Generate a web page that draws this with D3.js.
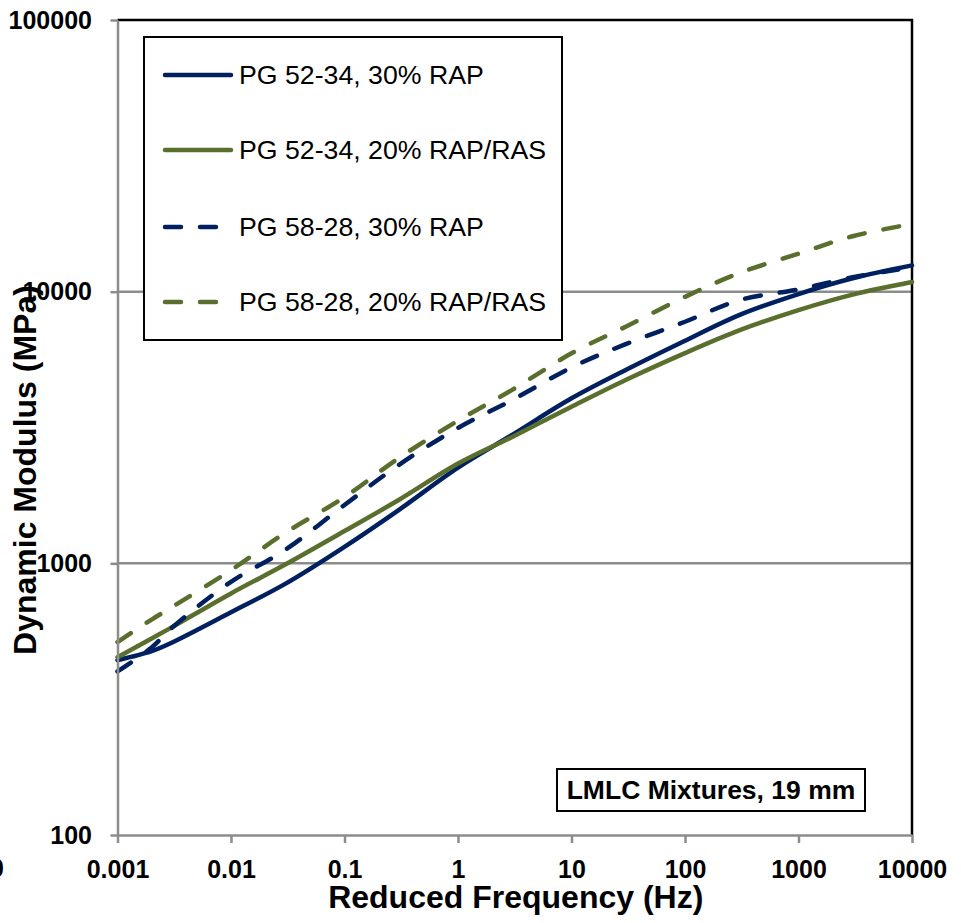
<!DOCTYPE html>
<html>
<head>
<meta charset="utf-8">
<script src="https://cdn.jsdelivr.net/npm/d3@7"></script>
<style>
  body { margin: 0; background: #fff; }
  svg { display: block; font-family: "Liberation Sans", Arial, sans-serif; }
</style>
</head>
<body>
<div id="plot"></div>
<script>
// Reduced frequency (Hz) at which the curves were read
const freq = [0.001, 0.002, 0.003, 0.01, 0.03, 0.1, 0.3, 1, 3, 10, 30, 100, 300, 1000, 3000, 10000];

// Dynamic modulus (MPa) for each mixture
const pg5234Rap    = [440, 475, 510, 660, 840, 1150, 1570, 2250, 2970, 4050, 5150, 6600, 8200, 9800, 11200, 12500];
const pg5234RapRas = [451, 529, 581, 775, 990, 1315, 1710, 2330, 2920, 3770, 4730, 5940, 7200, 8550, 9750, 10850];
const pg5828Rap    = [400, 490, 578, 855, 1120, 1640, 2300, 3150, 3990, 5260, 6410, 7750, 9300, 10200, 11300, 12300];
const pg5828RapRas = [513, 621, 689, 944, 1294, 1753, 2440, 3350, 4350, 5930, 7430, 9570, 11700, 13800, 16000, 17750];

const seriesNames = ["PG 52-34, 30% RAP", "PG 52-34, 20% RAP/RAS", "PG 58-28, 30% RAP", "PG 58-28, 20% RAP/RAS"];
const xTicks = [0.001, 0.01, 0.1, 1, 10, 100, 1000, 10000];
const yTicks = [100, 1000, 10000, 100000];

const blue = "#002060";
const green = "#5a6f2e";
const gridGray = "#8c8c8c";

const series = [
    {name: seriesNames[0], values: pg5234Rap, color: blue, dash: null},
    {name: seriesNames[1], values: pg5234RapRas, color: green, dash: null},
    {name: seriesNames[2], values: pg5828Rap, color: blue, dash: "16,19"},
    {name: seriesNames[3], values: pg5828RapRas, color: green, dash: "16,19"}
];

const W = 961, H = 923;
const plot = {left: 117.5, right: 912, top: 20, bottom: 835};

const svg = d3.select("#plot")
    .append("svg")
    .attr("width", W)
    .attr("height", H);

const x = d3.scaleLog()
    .domain([0.001, 10000])
    .range([plot.left, plot.right]);

const y = d3.scaleLog()
    .domain([100, 100000])
    .range([plot.bottom, plot.top]);

// Horizontal gridlines
svg.append("g")
    .selectAll("line")
    .data(yTicks.filter(d => d > 100 && d < 100000))
    .join("line")
    .attr("x1", plot.left)
    .attr("x2", plot.right)
    .attr("y1", d => y(d))
    .attr("y2", d => y(d))
    .attr("stroke", gridGray)
    .attr("stroke-width", 2.5);

// Black top and right border
svg.append("path")
    .attr("d", `M${plot.left},${plot.top}H${plot.right}V${plot.bottom}`)
    .attr("fill", "none")
    .attr("stroke", "#000")
    .attr("stroke-width", 2.5);

// Curves (smoothed like the spreadsheet lines)
const line = d3.line()
    .x((d, i) => x(freq[i]))
    .y(d => y(d))
    .curve(d3.curveCatmullRom.alpha(0.5));

svg.append("g")
    .selectAll("path")
    .data(series)
    .join("path")
    .attr("d", d => line(d.values))
    .attr("fill", "none")
    .attr("stroke", d => d.color)
    .attr("stroke-width", 4.5)
    .attr("stroke-linecap", "round")
    .attr("stroke-dasharray", d => d.dash);

// Axes
const yAxis = svg.append("g")
    .attr("transform", `translate(${plot.left},0)`)
    .call(d3.axisLeft(y)
        .tickValues(yTicks)
        .tickFormat(d3.format("d"))
        .tickSizeInner(7)
        .tickSizeOuter(0)
        .tickPadding(18.5));

const xAxis = svg.append("g")
    .attr("transform", `translate(0,${plot.bottom})`)
    .call(d3.axisBottom(x)
        .tickValues(xTicks)
        .tickFormat(d => d3.format("~g")(d))
        .tickSizeInner(8)
        .tickSizeOuter(0)
        .tickPadding(17));

[xAxis, yAxis].forEach(ax => {
    ax.select(".domain").attr("stroke", gridGray).attr("stroke-width", 2.5);
    ax.selectAll(".tick line").attr("stroke", gridGray).attr("stroke-width", 2.5);
    ax.selectAll(".tick text")
        .attr("fill", "#000")
        .style("font-size", "25px")
        .style("font-weight", "bold")
        .style("font-family", "'Liberation Sans', Arial, sans-serif");
});

// Stray clipped label at the left edge (cut off in the original too)
svg.append("text")
    .attr("x", 4)
    .attr("y", 877)
    .attr("text-anchor", "end")
    .style("font-size", "25px")
    .style("font-weight", "bold")
    .text("0");

// Axis titles
svg.append("text")
    .attr("x", (plot.left + plot.right) / 2 + 1)
    .attr("y", 908)
    .attr("text-anchor", "middle")
    .style("font-size", "32px")
    .style("font-weight", "bold")
    .text("Reduced Frequency (Hz)");

svg.append("text")
    .attr("transform", "translate(36,470) rotate(-90)")
    .attr("text-anchor", "middle")
    .style("font-size", "32px")
    .style("font-weight", "bold")
    .text("Dynamic Modulus (MPa)");

// Legend
const legend = svg.append("g");
legend.append("rect")
    .attr("x", 144)
    .attr("y", 37)
    .attr("width", 418)
    .attr("height", 303)
    .attr("fill", "#fff")
    .attr("stroke", "#000")
    .attr("stroke-width", 2);

const rowY = [75, 150, 227, 302];
const items = legend.selectAll("g.item")
    .data(series)
    .join("g")
    .attr("class", "item")
    .attr("transform", (d, i) => `translate(0,${rowY[i]})`);

items.append("line")
    .attr("x1", 165)
    .attr("x2", 231)
    .attr("stroke", d => d.color)
    .attr("stroke-width", 4.5)
    .attr("stroke-linecap", "round")
    .attr("stroke-dasharray", d => d.dash);

items.append("text")
    .attr("x", 239)
    .attr("y", 9)
    .style("font-size", "26.7px")
    .text(d => d.name);

// Annotation box
svg.append("rect")
    .attr("x", 557)
    .attr("y", 769)
    .attr("width", 308)
    .attr("height", 42)
    .attr("fill", "#fff")
    .attr("stroke", "#000")
    .attr("stroke-width", 2);

svg.append("text")
    .attr("x", 711)
    .attr("y", 799)
    .attr("text-anchor", "middle")
    .style("font-size", "26.5px")
    .style("font-weight", "bold")
    .text("LMLC Mixtures, 19 mm");
</script>
</body>
</html>
